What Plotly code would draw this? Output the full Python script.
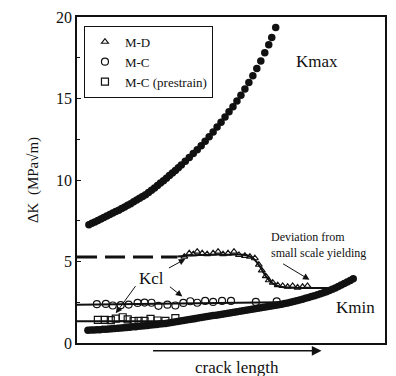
import plotly.graph_objects as go

# crack length (arbitrary units) and ΔK (MPa√m)
kmax_x = [12, 15, 18, 21, 24, 27, 30, 33, 36, 39, 42, 45, 48, 51, 54, 57, 60, 63, 66, 69,
          72, 75, 78, 81, 84, 87, 90, 93, 96, 99, 102, 105, 109, 113, 117, 121, 125, 129,
          133, 137, 141, 145, 149, 153, 157, 161, 165, 169, 173, 177, 181, 185, 189, 193,
          196, 200]
kmax_y = [7.25, 7.34, 7.43, 7.52, 7.61, 7.70, 7.79, 7.88, 7.97, 8.06, 8.15, 8.25, 8.35,
          8.45, 8.55, 8.66, 8.77, 8.88, 8.99, 9.10, 9.23, 9.37, 9.51, 9.66, 9.81, 9.96,
          10.11, 10.27, 10.43, 10.59, 10.75, 10.92, 11.15, 11.38, 11.62, 11.86, 12.1,
          12.38, 12.66, 12.95, 13.25, 13.55, 13.86, 14.18, 14.5, 14.84, 15.2, 15.58,
          15.98, 16.4, 16.84, 17.3, 17.8, 18.3, 18.75, 19.35]

kmin_x = [11, 14, 17, 20, 23, 26, 29, 32, 35, 38, 41, 44, 47, 50, 53, 56, 59, 62, 65, 68,
          71, 74, 77, 80, 83, 86, 89, 92, 95, 98, 101, 104, 107, 110, 113, 116, 119, 122,
          125, 128, 131, 134, 137, 140, 143, 146, 149, 152, 155, 158, 161, 164, 167, 170,
          173, 176, 179, 182, 185, 188, 191, 194, 197, 200, 203, 206, 209, 212, 215, 218,
          221, 224, 227, 230, 233, 236, 239, 242, 245, 248, 251, 254, 257, 260, 263, 266,
          269, 272, 275, 278]
kmin_y = [0.78, 0.79, 0.80, 0.81, 0.82, 0.84, 0.85, 0.86, 0.88, 0.89,
          0.91, 0.92, 0.94, 0.95, 0.97, 0.99, 1.00, 1.02, 1.04, 1.06,
          1.08, 1.10, 1.12, 1.14, 1.16, 1.18, 1.20, 1.23, 1.26, 1.29,
          1.32, 1.35, 1.38, 1.41, 1.44, 1.47, 1.50, 1.53, 1.56, 1.59,
          1.62, 1.65, 1.68, 1.71, 1.74, 1.77, 1.80, 1.83, 1.86, 1.89,
          1.92, 1.95, 1.98, 2.01, 2.04, 2.07, 2.10, 2.13, 2.16, 2.19,
          2.22, 2.25, 2.28, 2.31, 2.34, 2.38, 2.42, 2.46, 2.50, 2.54,
          2.59, 2.64, 2.69, 2.74, 2.79, 2.85, 2.90, 2.96, 3.02, 3.08,
          3.15, 3.22, 3.30, 3.38, 3.47, 3.56, 3.65, 3.74, 3.84, 3.94]

md_x = [108, 113, 117, 121, 126, 131, 137, 142, 147, 152, 158, 163, 169, 174, 179, 183,
        186, 190, 193, 197, 202, 207, 212, 217, 222, 227, 232]
md_y = [5.3, 5.5, 5.45, 5.6, 5.5, 5.45, 5.5, 5.6, 5.45, 5.5, 5.6, 5.4, 5.35, 5.3, 5.2,
        4.8, 4.45, 4.1, 3.85, 3.7, 3.55, 3.5, 3.45, 3.5, 3.4, 3.45, 3.5]
md_dash_x = [0, 101]
md_dash_y = [5.27, 5.27]
md_fit_x = [101, 123, 153, 171, 178, 184, 190, 196, 203, 213, 233, 260]
md_fit_y = [5.3, 5.4, 5.42, 5.38, 5.15, 4.7, 4.1, 3.7, 3.48, 3.4, 3.38, 3.38]

mc_x = [20, 29, 36, 44, 52, 61, 68, 75, 82, 91, 99, 107, 114, 121, 129, 137, 146, 155,
        180, 201]
mc_y = [2.38, 2.4, 2.3, 2.32, 2.36, 2.46, 2.48, 2.47, 2.28, 2.35, 2.3, 2.46, 2.56, 2.47,
        2.58, 2.52, 2.58, 2.58, 2.52, 2.55]
mc_fit_x = [0, 203]
mc_fit_y = [2.35, 2.5]

mcp_x = [21, 28, 34, 39, 46, 51, 57, 62, 68, 74, 81, 89, 99]
mcp_y = [1.42, 1.42, 1.4, 1.5, 1.58, 1.45, 1.35, 1.36, 1.36, 1.48, 1.38, 1.36, 1.52]
mcp_fit_x = [0, 120]
mcp_fit_y = [1.33, 1.33]

y_ticks = [0, 5, 10, 15, 20]

SERIF = "Liberation Serif"
BLACK = "#111"

fig = go.Figure()

# fitted lines (behind markers)
fig.add_trace(go.Scatter(x=md_dash_x, y=md_dash_y, mode="lines", showlegend=False,
                         line=dict(color=BLACK, width=3, dash="20px,8px")))
fig.add_trace(go.Scatter(x=md_fit_x, y=md_fit_y, mode="lines", showlegend=False,
                         line=dict(color=BLACK, width=2, shape="spline")))
fig.add_trace(go.Scatter(x=mc_fit_x, y=mc_fit_y, mode="lines", showlegend=False,
                         line=dict(color=BLACK, width=2)))
fig.add_trace(go.Scatter(x=mcp_fit_x, y=mcp_fit_y, mode="lines", showlegend=False,
                         line=dict(color=BLACK, width=2)))

# Kmax / Kmin
fig.add_trace(go.Scatter(x=kmax_x, y=kmax_y, mode="markers", showlegend=False,
                         marker=dict(color=BLACK, size=7.5)))
fig.add_trace(go.Scatter(x=kmin_x, y=kmin_y, mode="markers", showlegend=False,
                         marker=dict(color=BLACK, size=7.5)))

# measured Kcl
fig.add_trace(go.Scatter(x=md_x, y=md_y, mode="markers", name="M-D",
                         marker=dict(symbol="triangle-up-open", color=BLACK, size=6,
                                     line=dict(width=1.2))))
fig.add_trace(go.Scatter(x=mc_x, y=mc_y, mode="markers", name="M-C",
                         marker=dict(symbol="circle-open", color=BLACK, size=7,
                                     line=dict(width=1.2))))
fig.add_trace(go.Scatter(x=mcp_x, y=mcp_y, mode="markers", name="M-C (prestrain)",
                         marker=dict(symbol="square-open", color=BLACK, size=7,
                                     line=dict(width=1.2))))

ann = []
def text(x, y, t, size=16, **kw):
    ann.append(dict(x=x, y=y, xref="x", yref="y", text=t, showarrow=False,
                    font=dict(family=SERIF, size=size, color=BLACK), **kw))

def arrow(x0, y0, x1, y1):
    ann.append(dict(x=x1, y=y1, ax=x0, ay=y0, xref="x", yref="y", axref="x", ayref="y",
                    text="", showarrow=True, arrowhead=2, arrowsize=1.3, arrowwidth=1,
                    arrowcolor=BLACK))

text(242, 17.27, "Kmax", size=17)
text(280, 2.18, "Kmin", size=17)
text(75, 3.94, "Kcl", size=17)
text(193, 6.03, "Deviation from<br>small scale yielding", size=12, xanchor="left",
     align="left")
arrow(91, 4.55, 109, 5.15)
arrow(92, 3.52, 106, 2.85)
arrow(60, 3.58, 39, 1.82)
arrow(206, 4.91, 234, 3.88)

# crack length arrow and label below the axis
ann.append(dict(x=0.794, y=-0.024, xref="paper", yref="paper", ax=-170, ay=0,
                text="", showarrow=True, arrowhead=2, arrowsize=1.3, arrowwidth=1.5,
                arrowcolor=BLACK))
ann.append(dict(x=0.52, y=-0.075, xref="paper", yref="paper", text="crack length",
                showarrow=False, yanchor="middle", xanchor="center",
                font=dict(family=SERIF, size=17, color=BLACK)))

fig.update_layout(
    width=396, height=376,
    margin=dict(l=77, r=9, t=13, b=33),
    paper_bgcolor="white", plot_bgcolor="white",
    font=dict(family=SERIF, color=BLACK),
    annotations=ann,
    legend=dict(x=0.0226, y=0.973, xanchor="left", yanchor="top",
                bordercolor=BLACK, borderwidth=1, bgcolor="white",
                font=dict(family=SERIF, size=13, color=BLACK),
                itemwidth=30, tracegroupgap=0),
    xaxis=dict(range=[0, 310], showticklabels=False, ticks="", showgrid=False,
               zeroline=False, showline=True, linecolor=BLACK, linewidth=1.5,
               mirror=True),
    yaxis=dict(range=[0, 20], tickvals=y_ticks, ticks="inside", ticklen=4,
               tickcolor=BLACK, showgrid=False, zeroline=False, showline=True,
               linecolor=BLACK, linewidth=1.5, mirror=True,
               tickfont=dict(family=SERIF, size=16, color=BLACK),
               minor=dict(dtick=2.5, ticks="inside", ticklen=3, tickcolor=BLACK),
               title=dict(text="ΔK  (MPa√m)", standoff=14,
                          font=dict(family=SERIF, size=15, color=BLACK))),
)

fig.write_html("out.html")
